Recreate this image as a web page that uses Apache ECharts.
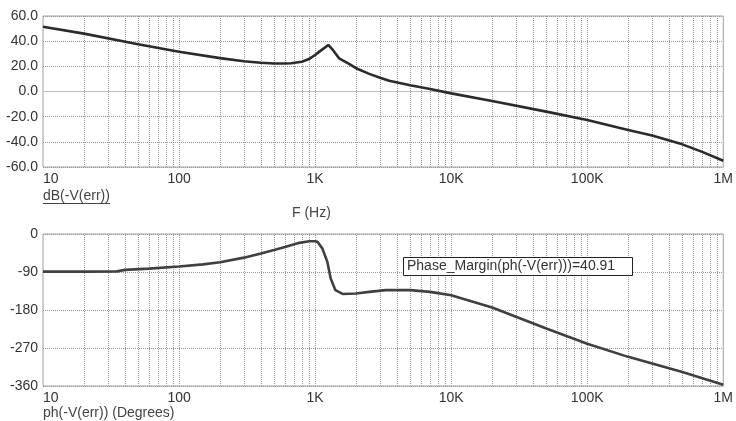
<!DOCTYPE html>
<html><head><meta charset="utf-8">
<script src="https://cdn.jsdelivr.net/npm/echarts@6/dist/echarts.min.js"></script>
<style>html,body{margin:0;padding:0;background:#fff}#c{width:736px;height:421px}</style>
</head><body><div id="c"></div>
<script>
// ---- data ----
const xTickLabels = ['10','100','1K','10K','100K','1M'];
const freqGain = [10,20,50,100,200,300,400,500,600,665,800,900,1000,1100,1250,1350,1500,1750,2000,2500,3000,3500,5000,7000,10000,20000,50000,100000,200000,300000,500000,700000,1000000];
const gainDb   = [51.5,46,37.5,31.6,26.5,24,22.8,22.3,22.3,22.5,23.7,25.8,29,32.5,37,33,26.4,22.4,18.5,14,11,8.5,5,2,-1.5,-7.5,-16,-22.7,-30.6,-35,-42,-48,-55];
const freqPhase = [10,20,35,40,60,100,150,200,300,400,500,600,766,906,1000,1040,1130,1230,1300,1410,1590,2000,2500,3300,5000,7000,10000,20000,50000,100000,200000,500000,1000000];
const phaseDeg  = [-89,-89,-88.5,-85,-82,-77,-72,-67,-56,-46,-38,-31,-21,-17,-17,-18.5,-34,-66,-105,-133,-142,-141,-137,-133,-133,-137,-145,-174,-224,-260,-291,-327,-357];
const phaseMarginText = 'Phase_Margin(ph(-V(err)))=40.91';

const gainData = freqGain.map((f,i)=>[f,gainDb[i]]);
const phaseData = freqPhase.map((f,i)=>[f,phaseDeg[i]]);

// vertical grid lines (decades and sub-decades)
const vLines = [];
for (let d = 10; d < 1e6; d *= 10) for (let m = 1; m <= 9; m++) { if (d*m > 10) vLines.push({xAxis: d*m}); }

const FONT = '"Liberation Sans", Arial, sans-serif';
const txt = '#333';
const gridLineStyle = {type:'dotted', color:'#9a9a9a', width:1};

function xAxis(gi){
  return {type:'log', logBase:10, gridIndex:gi, min:10, max:1e6,
    axisLine:{show:false}, axisTick:{show:false}, splitLine:{show:false},
    axisLabel:{fontFamily:FONT, fontSize:14, color:txt, margin:5, alignMinLabel:'left',
      formatter:v=>xTickLabels[Math.round(Math.log10(v))-1]}};
}

const chart = echarts.init(document.getElementById('c'), null, {renderer:'canvas'});
chart.setOption({
  animation:false,
  backgroundColor:'#fff',
  grid:[
    {left:43, top:16, width:682, height:151, show:true, borderColor:'#a0a0a0', borderWidth:1, backgroundColor:'transparent'},
    {left:43, top:234, width:682, height:152, show:true, borderColor:'#a0a0a0', borderWidth:1, backgroundColor:'transparent'}
  ],
  xAxis:[xAxis(0), xAxis(1)],
  yAxis:[
    {type:'value', gridIndex:0, min:-60, max:60, interval:20,
      axisLine:{show:false}, axisTick:{show:false},
      splitLine:{show:true, lineStyle:gridLineStyle},
      axisLabel:{fontFamily:FONT, fontSize:14, color:txt, margin:5, formatter:v=>v.toFixed(1)}},
    {type:'value', gridIndex:1, min:-360, max:0, interval:90,
      axisLine:{show:false}, axisTick:{show:false},
      splitLine:{show:true, lineStyle:gridLineStyle},
      axisLabel:{fontFamily:FONT, fontSize:14, color:txt, margin:5}}
  ],
  series:[
    {type:'line', xAxisIndex:0, yAxisIndex:0, data:[], z:1, silent:true,
      markLine:{silent:true, symbol:'none', label:{show:false}, lineStyle:gridLineStyle,
        data: vLines.concat([{yAxis:0, lineStyle:{type:'solid', color:'#c0c0c0', width:1}}])}},
    {type:'line', xAxisIndex:1, yAxisIndex:1, data:[], z:1, silent:true,
      markLine:{silent:true, symbol:'none', label:{show:false}, lineStyle:gridLineStyle, data: vLines}},
    {type:'line', xAxisIndex:0, yAxisIndex:0, data:gainData, z:5, showSymbol:false,
      lineStyle:{color:'#2b2b2b', width:2.6}},
    {type:'line', xAxisIndex:1, yAxisIndex:1, data:phaseData, z:5, showSymbol:false,
      lineStyle:{color:'#404040', width:2.6}}
  ],
  graphic:[
    {type:'text', left:43, top:189, style:{text:'dB(-V(err))', font:'14px '+FONT, fill:'#444'}},
    {type:'line', shape:{x1:43, y1:203.5, x2:110, y2:203.5}, style:{stroke:'#444', lineWidth:1}},
    {type:'text', left:292, top:206, style:{text:'F (Hz)', font:'14px '+FONT, fill:'#444'}},
    {type:'text', left:43, top:406, style:{text:'ph(-V(err)) (Degrees)', font:'14px '+FONT, fill:'#444'}},
    {type:'rect', shape:{x:403.5, y:257.5, width:229, height:18}, style:{fill:'#fff', stroke:'#222', lineWidth:1}, z:10},
    {type:'text', x:407, y:259, z:11, style:{text:phaseMarginText, font:'14px '+FONT, fill:'#333'}}
  ]
});
</script></body></html>
